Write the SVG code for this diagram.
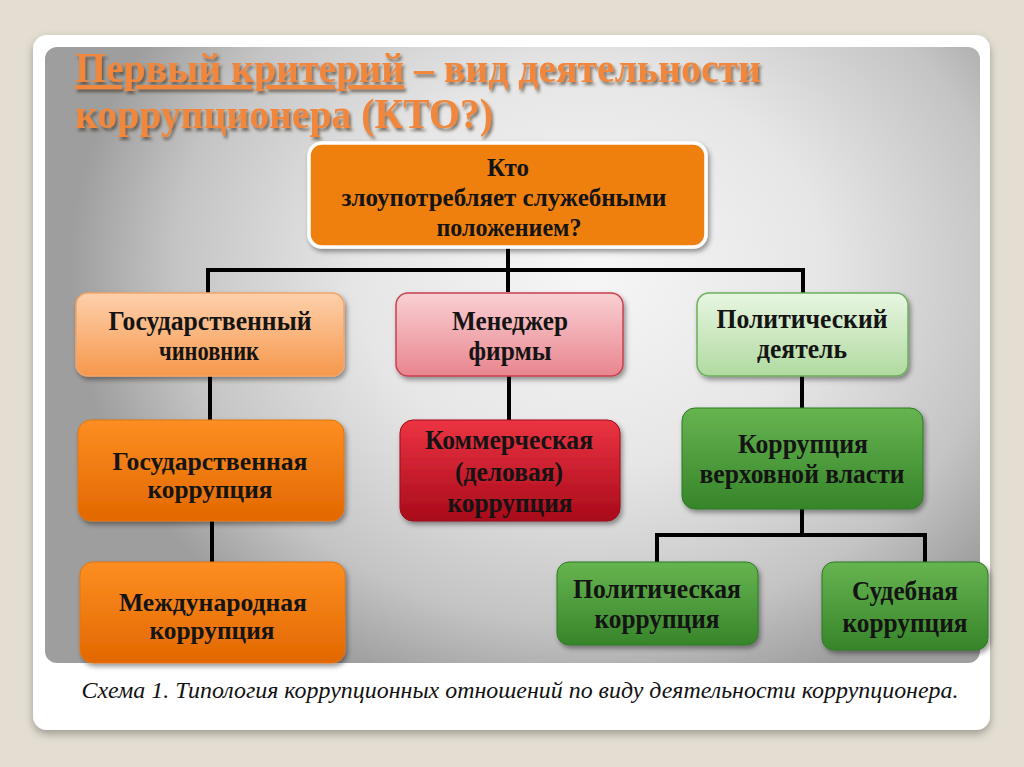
<svg xmlns="http://www.w3.org/2000/svg" width="1024" height="767" viewBox="0 0 1024 767">
<defs>
  <radialGradient id="panelGrad" gradientUnits="userSpaceOnUse" cx="590" cy="270" r="520" gradientTransform="translate(590 270) scale(1 0.85) translate(-590 -270)">
    <stop offset="0" stop-color="#f6f6f6"/>
    <stop offset="0.45" stop-color="#e6e6e6"/>
    <stop offset="0.8" stop-color="#c4c4c4"/>
    <stop offset="1" stop-color="#9e9e9e"/>
  </radialGradient>
  <linearGradient id="gLightOrange" x1="0" y1="0" x2="0" y2="1">
    <stop offset="0" stop-color="#fdd0ac"/>
    <stop offset="1" stop-color="#f6984c"/>
  </linearGradient>
  <linearGradient id="gOrange" x1="0" y1="0" x2="0" y2="1">
    <stop offset="0" stop-color="#fd8e22"/>
    <stop offset="1" stop-color="#e26800"/>
  </linearGradient>
  <linearGradient id="gPink" x1="0" y1="0" x2="0" y2="1">
    <stop offset="0" stop-color="#f9d0d3"/>
    <stop offset="1" stop-color="#e9858f"/>
  </linearGradient>
  <linearGradient id="gRed" x1="0" y1="0" x2="0" y2="1">
    <stop offset="0" stop-color="#ec3442"/>
    <stop offset="1" stop-color="#a80a1a"/>
  </linearGradient>
  <linearGradient id="gLightGreen" x1="0" y1="0" x2="0" y2="1">
    <stop offset="0" stop-color="#e8f6e2"/>
    <stop offset="1" stop-color="#b0daa0"/>
  </linearGradient>
  <linearGradient id="gGreen" x1="0" y1="0" x2="0" y2="1">
    <stop offset="0" stop-color="#66b450"/>
    <stop offset="1" stop-color="#37852a"/>
  </linearGradient>
  <filter id="shadow" x="-10%" y="-10%" width="125%" height="135%">
    <feDropShadow dx="2" dy="3" stdDeviation="2.5" flood-color="#000" flood-opacity="0.4"/>
  </filter>
  <filter id="cardShadow" x="-5%" y="-5%" width="110%" height="112%">
    <feDropShadow dx="0" dy="4" stdDeviation="4" flood-color="#000" flood-opacity="0.3"/>
  </filter>
  <filter id="titleShadow" x="-5%" y="-20%" width="110%" height="150%">
    <feDropShadow dx="2" dy="3" stdDeviation="1.5" flood-color="#3a2a20" flood-opacity="0.6"/>
  </filter>
</defs>
<style>
  .lbl { font-family: "Liberation Serif", "Times New Roman", serif; font-weight: bold; font-size: 27px; fill: #141414; text-anchor: middle; }
  .top { font-size: 25px; }
  .tight { font-size: 25px; }
  .title { font-family: "Liberation Serif", "Times New Roman", serif; font-weight: bold; font-size: 42px; fill: #f0873c; }
  .cap { font-family: "Liberation Serif", "Times New Roman", serif; font-style: italic; font-size: 23px; fill: #111; text-anchor: middle; }
  .box { filter: url(#shadow); }
  .conn line { stroke: #000; stroke-width: 4; }
</style>

<rect x="0" y="0" width="1024" height="767" fill="#e3ddd2"/>
<rect x="33" y="35" width="957" height="695" rx="14" fill="#ffffff" filter="url(#cardShadow)"/>
<rect x="45" y="47" width="935" height="616" rx="12" fill="url(#panelGrad)"/>

<g id="title" filter="url(#titleShadow)">
  <text class="title" x="75" y="82" textLength="686" lengthAdjust="spacingAndGlyphs"><tspan text-decoration="underline">Первый критерий</tspan> – вид деятельности</text>
  <text class="title" x="75" y="128" textLength="418" lengthAdjust="spacingAndGlyphs">коррупционера (КТО?)</text>
</g>

<g id="connectors" class="conn">
  <line x1="508" y1="248" x2="508" y2="292"/>
  <line x1="206" y1="270" x2="805" y2="270"/>
  <line x1="208" y1="268" x2="208" y2="294"/>
  <line x1="803" y1="268" x2="803" y2="294"/>
  <line x1="210" y1="376" x2="210" y2="421"/>
  <line x1="509" y1="376" x2="509" y2="421"/>
  <line x1="802" y1="376" x2="802" y2="409"/>
  <line x1="212" y1="520" x2="212" y2="563"/>
  <line x1="802" y1="508" x2="802" y2="535"/>
  <line x1="655" y1="535" x2="927" y2="535"/>
  <line x1="657" y1="533" x2="657" y2="563"/>
  <line x1="925" y1="533" x2="925" y2="563"/>
</g>

<g id="node-who">
  <rect class="box" x="309" y="143" width="397" height="104" rx="13" fill="#ef8010" stroke="#ffffff" stroke-width="3.5"/>
  <text class="lbl top" x="508" y="176" textLength="42" lengthAdjust="spacingAndGlyphs">Кто</text>
  <text class="lbl top" x="504" y="206" textLength="325" lengthAdjust="spacingAndGlyphs">злоупотребляет служебными</text>
  <text class="lbl top" x="509" y="236" textLength="145" lengthAdjust="spacingAndGlyphs">положением?</text>
</g>

<g id="node-official">
  <rect class="box" x="76" y="293" width="268" height="83" rx="12" fill="url(#gLightOrange)" stroke="#f3a467" stroke-width="1.5"/>
  <text class="lbl" x="210" y="330" textLength="203" lengthAdjust="spacingAndGlyphs">Государственный</text>
  <text class="lbl" x="209" y="360" textLength="100" lengthAdjust="spacingAndGlyphs">чиновник</text>
</g>

<g id="node-manager">
  <rect class="box" x="396" y="293" width="227" height="83" rx="12" fill="url(#gPink)" stroke="#c8404e" stroke-width="1.5"/>
  <text class="lbl" x="510" y="330" textLength="116" lengthAdjust="spacingAndGlyphs">Менеджер</text>
  <text class="lbl" x="510" y="360" textLength="83" lengthAdjust="spacingAndGlyphs">фирмы</text>
</g>

<g id="node-politician">
  <rect class="box" x="697" y="293" width="211" height="83" rx="12" fill="url(#gLightGreen)" stroke="#6cae5c" stroke-width="1.5"/>
  <text class="lbl" x="802" y="328" textLength="171" lengthAdjust="spacingAndGlyphs">Политический</text>
  <text class="lbl" x="802" y="358" textLength="90" lengthAdjust="spacingAndGlyphs">деятель</text>
</g>

<g id="node-state-corruption">
  <rect class="box" x="78" y="420" width="266" height="101" rx="13" fill="url(#gOrange)" stroke="#e37510" stroke-width="1"/>
  <text class="lbl tight" x="210" y="470" textLength="195" lengthAdjust="spacingAndGlyphs">Государственная</text>
  <text class="lbl tight" x="210" y="498" textLength="125" lengthAdjust="spacingAndGlyphs">коррупция</text>
</g>

<g id="node-commercial">
  <rect class="box" x="400" y="420" width="220" height="101" rx="13" fill="url(#gRed)" stroke="#9e0c1a" stroke-width="1"/>
  <text class="lbl" x="509" y="449" textLength="168" lengthAdjust="spacingAndGlyphs">Коммерческая</text>
  <text class="lbl" x="509" y="481" textLength="108" lengthAdjust="spacingAndGlyphs">(деловая)</text>
  <text class="lbl" x="510" y="512" textLength="125" lengthAdjust="spacingAndGlyphs">коррупция</text>
</g>

<g id="node-supreme">
  <rect class="box" x="682" y="408" width="241" height="101" rx="13" fill="url(#gGreen)" stroke="#2f7a22" stroke-width="1"/>
  <text class="lbl" x="803" y="453" textLength="130" lengthAdjust="spacingAndGlyphs">Коррупция</text>
  <text class="lbl" x="802" y="483" textLength="205" lengthAdjust="spacingAndGlyphs">верховной власти</text>
</g>

<g id="node-international">
  <rect class="box" x="80" y="562" width="265" height="101" rx="13" fill="url(#gOrange)" stroke="#e37510" stroke-width="1"/>
  <text class="lbl tight" x="213" y="611" textLength="188" lengthAdjust="spacingAndGlyphs">Международная</text>
  <text class="lbl tight" x="212" y="639" textLength="125" lengthAdjust="spacingAndGlyphs">коррупция</text>
</g>

<g id="node-political-corruption">
  <rect class="box" x="557" y="562" width="201" height="83" rx="12" fill="url(#gGreen)" stroke="#2f7a22" stroke-width="1"/>
  <text class="lbl" x="657" y="598" textLength="168" lengthAdjust="spacingAndGlyphs">Политическая</text>
  <text class="lbl" x="657" y="628" textLength="125" lengthAdjust="spacingAndGlyphs">коррупция</text>
</g>

<g id="node-judicial">
  <rect class="box" x="822" y="562" width="166" height="88" rx="12" fill="url(#gGreen)" stroke="#2f7a22" stroke-width="1"/>
  <text class="lbl" x="905" y="600" textLength="106" lengthAdjust="spacingAndGlyphs">Судебная</text>
  <text class="lbl" x="905" y="632" textLength="125" lengthAdjust="spacingAndGlyphs">коррупция</text>
</g>

<text class="cap" x="520" y="698" textLength="877" lengthAdjust="spacingAndGlyphs">Схема 1. Типология коррупционных отношений по виду деятельности коррупционера.</text>
</svg>
